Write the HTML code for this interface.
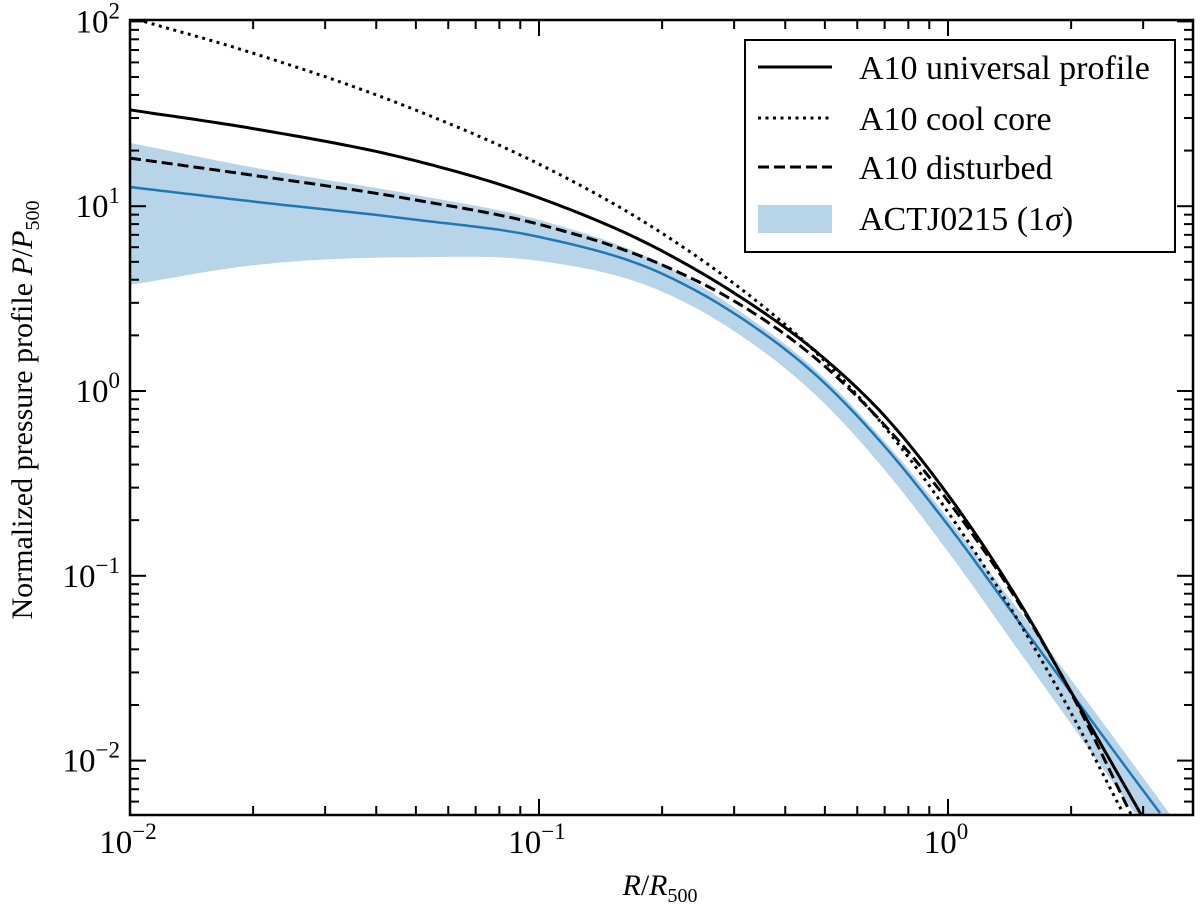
<!DOCTYPE html>
<html><head><meta charset="utf-8"><style>
body{margin:0;background:#fff;}
svg{display:block;font-family:"Liberation Serif",serif;}
</style></head><body>
<svg id="chart" width="1200" height="908" viewBox="0 0 1200 908" xmlns="http://www.w3.org/2000/svg">
<defs><clipPath id="clip"><rect x="130" y="20" width="1063" height="795"/></clipPath></defs>
<g id="plot" clip-path="url(#clip)"></g>
<g id="axes"></g>
<g>
<rect x="745" y="40" width="430" height="212" fill="#fff" stroke="#000" stroke-width="2"/>
<line x1="758" y1="67" x2="832" y2="67" stroke="#000" stroke-width="3"/>
<text x="859" y="79" font-size="34">A10 universal profile</text>
<line x1="758" y1="118" x2="832" y2="118" stroke="#000" stroke-width="3" stroke-dasharray="3,4.5"/>
<text x="859" y="130" font-size="34">A10 cool core</text>
<line x1="758" y1="167" x2="832" y2="167" stroke="#000" stroke-width="3" stroke-dasharray="11,5"/>
<text x="859" y="179" font-size="34">A10 disturbed</text>
<rect x="758" y="205" width="74" height="28" fill="#b8d4e8"/>
<text x="859" y="230" font-size="34">ACTJ0215 (1<tspan font-style="italic">σ</tspan>)</text>
</g>
<text x="660" y="895" font-size="30" text-anchor="middle"><tspan font-style="italic">R</tspan>/<tspan font-style="italic">R</tspan><tspan font-size="20" dy="7">500</tspan></text>
<text transform="translate(32,410) rotate(-90)" font-size="30" text-anchor="middle">Normalized pressure profile <tspan font-style="italic">P</tspan>/<tspan font-style="italic">P</tspan><tspan font-size="20" dy="7">500</tspan></text>
</svg>
<script>
var xsUniversal = [0.01,0.02,0.05,0.1,0.2,0.3,0.5,0.7,1,1.5,2,3];
var universal = [33.2,26.3,17.6,11.1,5.72,3.39,1.49,0.732,0.274,0.0712,0.0235,0.00489];
var xsCool = [0.01,0.02,0.05,0.1,0.2,0.3,0.5,0.7,1,1.5,2,2.67];
var coolCore = [105,67.3,33.1,16.9,7.14,3.81,1.45,0.639,0.221,0.0551,0.0181,0.00527];
var xsDisturbed = [0.01,0.02,0.05,0.1,0.2,0.3,0.5,0.7,1,1.5,2,2.8];
var disturbed = [18.2,14.7,10.8,7.98,4.81,3.07,1.36,0.653,0.254,0.0693,0.0232,0.00514];
var xsMean = [0.01,0.02,0.05,0.1,0.2,0.3,0.5,0.7,1,1.5,2,3,3.3];
var actMean = [12.7,10.6,8.45,6.82,4.31,2.63,1.10,0.501,0.188,0.0554,0.0233,0.00689,0.0052];
var xsBandUpper = [0.01,0.02,0.05,0.1,0.2,0.3,0.5,0.7,1,1.5,2,3,3.5,4];
var bandUpper = [22.0,16.2,11.5,8.43,4.86,2.83,1.17,0.534,0.205,0.0638,0.0274,0.00809,0.00508,0.00345];
var xsBandLower = [0.01,0.02,0.05,0.1,0.2,0.3,0.5,0.7,1,1.5,2,3,3.5];
var bandLower = [3.75,4.79,5.30,5.06,3.45,2.11,0.851,0.374,0.135,0.0384,0.01576,0.00449,0.00279];
var yTicks = [-2,-1,0,1,2];
var xTicks = [-2,-1,0];

var X0=130,X1=1193,Y0=815,Y1=20;
var XDEC=409, YDEC=184.8;
function sx(v){return X0+(Math.log10(v)+2)*XDEC;}
function sy(v){return 391-Math.log10(v)*YDEC;}
var NS="http://www.w3.org/2000/svg";
var plot=document.getElementById('plot'), axes=document.getElementById('axes');
function mk(tag,attrs,parent){var e=document.createElementNS(NS,tag);for(var k in attrs)e.setAttribute(k,attrs[k]);parent.appendChild(e);return e;}
function samples(xa,ya){
  var u=xa.map(function(x){return Math.log10(x);}), w=ya.map(function(y){return Math.log10(y);});
  var n=u.length, d=[], m=[];
  for(var i=0;i<n-1;i++) d.push((w[i+1]-w[i])/(u[i+1]-u[i]));
  m[0]=d[0]; m[n-1]=d[n-2];
  for(var i=1;i<n-1;i++){
    var h0=u[i]-u[i-1], h1=u[i+1]-u[i];
    m[i]=(d[i-1]*h1+d[i]*h0)/(h0+h1);
  }
  var out=[];
  for(var i=0;i<n-1;i++){
    var h=u[i+1]-u[i];
    for(var s=0;s<20;s++){
      var t=s/20,t2=t*t,t3=t2*t;
      var val=(2*t3-3*t2+1)*w[i]+(t3-2*t2+t)*h*m[i]+(-2*t3+3*t2)*w[i+1]+(t3-t2)*h*m[i+1];
      out.push([sx(Math.pow(10,u[i]+t*h)),sy(Math.pow(10,val))]);
    }
  }
  out.push([sx(xa[n-1]),sy(ya[n-1])]);
  return out;
}
function toD(p){return 'M'+p.map(function(q){return q[0].toFixed(1)+','+q[1].toFixed(1);}).join(' L');}
var up=samples(xsBandUpper,bandUpper), lo=samples(xsBandLower,bandLower).reverse();
var band=mk('path',{d:toD(up.concat(lo))+' Z',fill:'#b8d4e8',stroke:'none'},plot);


var mline=mk('path',{d:toD(samples(xsMean,actMean)),fill:'none',stroke:'#1f77b4','stroke-width':2.5},plot);


var uline=mk('path',{d:toD(samples(xsUniversal,universal)),fill:'none',stroke:'#000','stroke-width':3},plot);


var cline=mk('path',{d:toD(samples(xsCool,coolCore)),fill:'none',stroke:'#000','stroke-width':3,'stroke-dasharray':'3,4.5'},plot);


var dline=mk('path',{d:toD(samples(xsDisturbed,disturbed)),fill:'none',stroke:'#000','stroke-width':3,'stroke-dasharray':'11,5'},plot);



var fr=mk('rect',{x:X0,y:Y1,width:X1-X0,height:Y0-Y1,fill:'none',stroke:'#000','stroke-width':2.5},axes);


for(var dec=-2;dec<=0;dec++){for(var k=1;k<10;k++){var v=k*Math.pow(10,dec);var x=sx(v);if(x>X1)break;var L=k==1?16:9;
mk('line',{x1:x,y1:Y0,x2:x,y2:Y0-L,stroke:'#000','stroke-width':2},axes);
mk('line',{x1:x,y1:Y1,x2:x,y2:Y1+L,stroke:'#000','stroke-width':2},axes);}}
for(var dec2=-3;dec2<=2;dec2++){for(var k2=1;k2<10;k2++){var v2=k2*Math.pow(10,dec2);var y=sy(v2);if(y>Y0+0.5||y<Y1-0.5)continue;var L2=k2==1?16:9;
mk('line',{x1:X0,y1:y,x2:X0+L2,y2:y,stroke:'#000','stroke-width':2},axes);
mk('line',{x1:X1,y1:y,x2:X1-L2,y2:y,stroke:'#000','stroke-width':2},axes);}}
function tickLabel(xp,yp,anchor,t){
var tx=mk('text',{x:xp,y:yp,'font-size':33,'text-anchor':anchor},axes);


tx.appendChild(document.createTextNode('10'));
var sp=mk('tspan',{'font-size':23,dy:-14},tx);
sp.textContent=(t<0?'\u2212'+(-t):String(t));
}
xTicks.forEach(function(t){tickLabel(sx(Math.pow(10,t))-2,853,'middle',t);});
yTicks.forEach(function(t){tickLabel(120,sy(Math.pow(10,t))+11,'end',t);});
</script>
</body></html>
